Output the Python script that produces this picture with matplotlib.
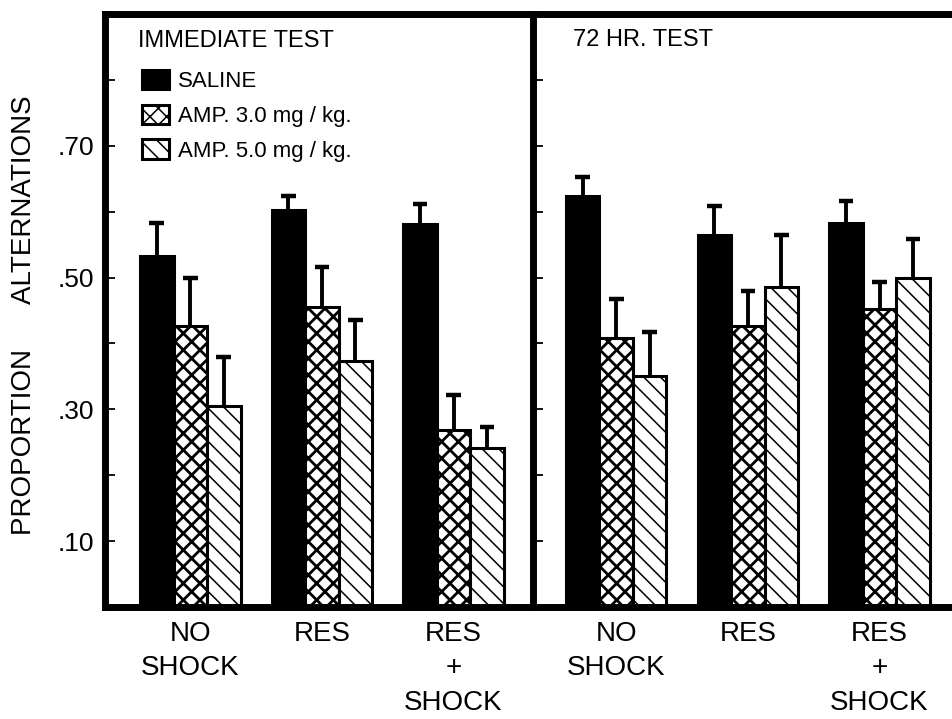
import matplotlib
matplotlib.use("Agg")
import matplotlib.pyplot as plt
import numpy as np

plt.rcParams['font.family'] = ['Liberation Sans', 'DejaVu Sans']
plt.rcParams['hatch.color'] = 'black'

# ---- data ----
conditions = ["NO\nSHOCK", "RES", "RES\n+\nSHOCK"]
series = ["SALINE", "AMP. 3.0 mg / kg.", "AMP. 5.0 mg / kg."]
panels = ["IMMEDIATE TEST", "72 HR. TEST"]

imm_saline = [0.533, 0.603, 0.582]
imm_amp3 = [0.426, 0.455, 0.269]
imm_amp5 = [0.305, 0.374, 0.241]
imm_saline_err = [0.050, 0.021, 0.029]
imm_amp3_err = [0.073, 0.061, 0.053]
imm_amp5_err = [0.075, 0.061, 0.032]

h72_saline = [0.624, 0.565, 0.583]
h72_amp3 = [0.409, 0.426, 0.452]
h72_amp5 = [0.351, 0.485, 0.500]
h72_saline_err = [0.029, 0.044, 0.033]
h72_amp3_err = [0.059, 0.054, 0.041]
h72_amp5_err = [0.067, 0.080, 0.059]

ytick_major = [0.10, 0.30, 0.50, 0.70]
ytick_labels = [".10", ".30", ".50", ".70"]
ytick_minor = [0.20, 0.40, 0.60, 0.80]

# ---- layout ----
W, H = 952, 719
fig = plt.figure(figsize=(W / 100, H / 100), dpi=100)

def fx(px):
    return px / W

def fy(py):
    return 1 - py / H

top_px, bot_px = 14, 607
ax1 = fig.add_axes([fx(105), fy(bot_px), fx(533) - fx(105), (bot_px - top_px) / H])
ax2 = fig.add_axes([fx(533), fy(bot_px), fx(533) - fx(105), (bot_px - top_px) / H])

styles = [
    dict(color='black', hatch=None, hlw=1.0),
    dict(color='white', hatch='xx', hlw=2.0),
    dict(color='white', hatch='\\\\', hlw=1.1),
]

group_step = 3.93
bw = 1.0

data = [
    ([imm_saline, imm_amp3, imm_amp5], [imm_saline_err, imm_amp3_err, imm_amp5_err]),
    ([h72_saline, h72_amp3, h72_amp5], [h72_saline_err, h72_amp3_err, h72_amp5_err]),
]

handles = []
for pi, (ax, (vals, errs)) in enumerate(zip([ax1, ax2], data)):
    g = np.arange(len(conditions)) * group_step
    for k in range(3):
        x = g + k
        st = styles[k]
        plt.rcParams['hatch.linewidth'] = st['hlw']
        bars = ax.bar(x, vals[k], width=bw, color=st['color'], edgecolor='black',
                      linewidth=2.2, hatch=st['hatch'], label=series[k], zorder=2)
        for b in bars:
            if hasattr(b, 'set_hatch_linewidth'):
                b.set_hatch_linewidth(st['hlw'])
        v = np.array(vals[k])
        e = np.array(errs[k])
        ax.vlines(x, v, v + e, color='black', linewidth=2.8, zorder=3)
        ax.hlines(v + e, x - 0.22, x + 0.22, color='black', linewidth=3.2, zorder=3)
        if pi == 0:
            handles.append(bars)
    ax.set_ylim(0, 0.90)
    ax.set_yticks(ytick_major)
    ax.set_yticks(ytick_minor, minor=True)
    ax.tick_params(axis='y', which='both', direction='in', length=7, width=1.3)
    ax.set_xticks([])
    for s in ax.spines.values():
        s.set_linewidth(5)
    for ci, lab in enumerate(conditions):
        ax.text(g[ci] + 1, -0.021, lab, ha='center', va='top', fontsize=20,
                linespacing=1.42, transform=ax.transData, clip_on=False)

ax1.set_xlim(-1.545, -1.545 + 428 / 33.5)
ax2.set_xlim(-1.485, -1.485 + 428 / 33.5)
ax1.spines['right'].set_visible(False)
ax2.spines['right'].set_visible(False)
ax1.set_yticklabels(ytick_labels, fontsize=19)
ax1.tick_params(axis='y', pad=8)
ax2.set_yticklabels([])

fig.text(fx(138), fy(47), panels[0], fontsize=17, ha='left', va='baseline')
fig.text(fx(573), fy(46), panels[1], fontsize=17, ha='left', va='baseline')

fig.text(fx(24), fy(315), "PROPORTION      ALTERNATIONS", rotation=90,
         fontsize=20, ha='center', va='center')

ax1.legend(handles=handles, labels=series, loc='upper left',
           bbox_to_anchor=(fx(142), fy(70)), bbox_transform=fig.transFigure,
           frameon=False, fontsize=16, handlelength=1.2, handleheight=0.95,
           handletextpad=0.4, labelspacing=0.56, borderpad=0, borderaxespad=0)

fig.savefig("out.png", dpi=100)
